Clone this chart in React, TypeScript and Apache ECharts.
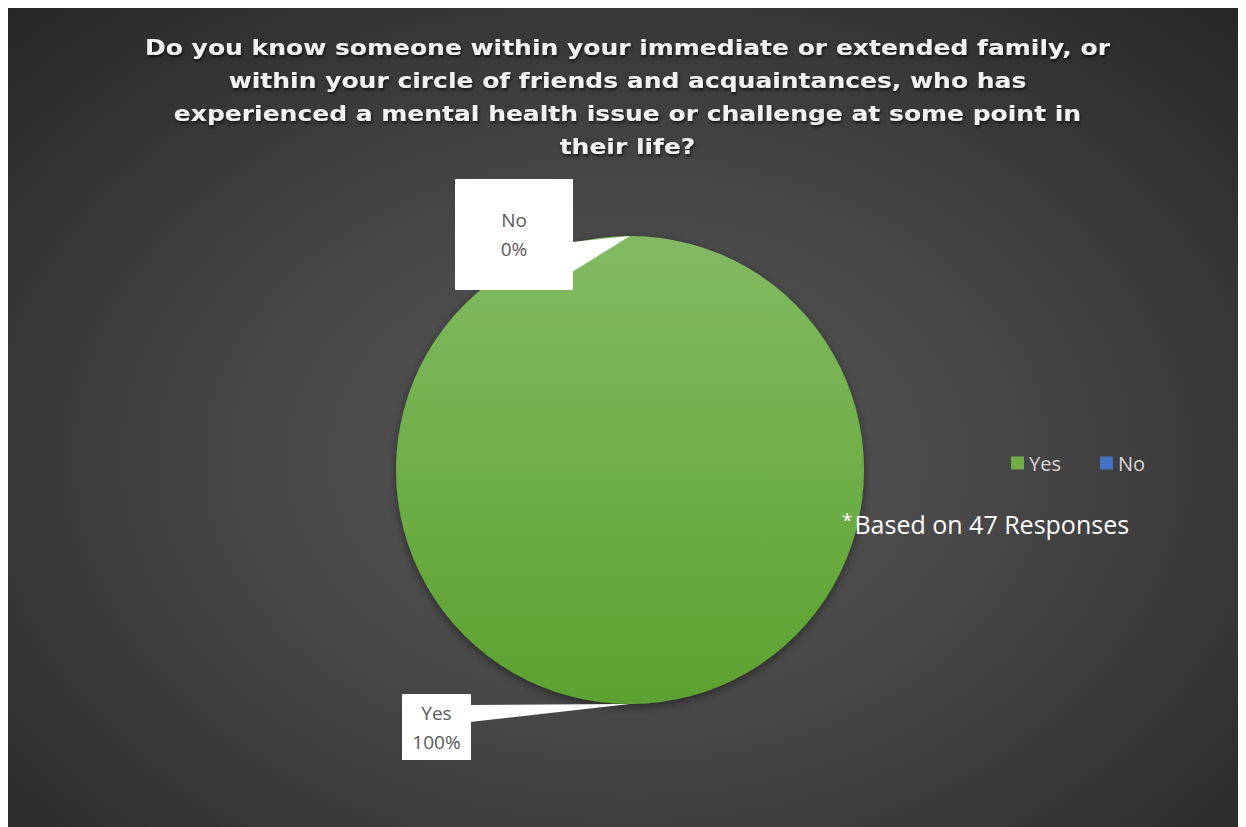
import React, { useEffect, useRef } from "react";
import * as echarts from "echarts";

const titleLines = [
  "Do you know someone within your immediate or extended family, or",
  "within your circle of friends and acquaintances, who has",
  "experienced a mental health issue or challenge at some point in",
  "their life?",
];
const categories = ["Yes", "No"];
const responses = [47, 0];
const noteText = "Based on 47 Responses";

const W = 1238;
const H = 820;
const CX = 622;
const CY = 462;
const R = 234;
const START = 90;

// label boxes (layout only)
const boxes = [
  { x: 394, y: 686, w: 69, h: 66, baseY0: 11, baseY1: 28 },
  { x: 447, y: 171, w: 118, h: 111, baseY0: 63, baseY1: 93 },
];

export default function App() {
  const ref = useRef<HTMLDivElement>(null);
  useEffect(() => {
    if (!ref.current) return;
    const chart = echarts.init(ref.current, undefined, { renderer: "svg" });
    const total = responses.reduce((a, b) => a + b, 0);
    let acc = 0;
    const mids: number[] = [];
    responses.forEach((v) => {
      const frac = v / total;
      mids.push(START - (acc + frac / 2) * 360);
      acc += frac;
    });
    const wedges = boxes.map((b, i) => {
      const a = (mids[i] * Math.PI) / 180;
      const tx = CX + R * Math.cos(a);
      const ty = CY - R * Math.sin(a);
      return {
        type: "polygon",
        z: 100,
        shape: {
          points: [
            [b.x + b.w - 1, b.y + b.baseY0],
            [tx, ty],
            [b.x + b.w - 1, b.y + b.baseY1],
          ],
        },
        style: { fill: "#ffffff" },
      };
    });
    chart.setOption({
      animation: false,
      legend: {
        left: 1003,
        top: 445,
        padding: 0,
        itemWidth: 13,
        itemHeight: 13,
        itemGap: 39,
        icon: "rect",
        textStyle: { color: "#d9d9d9", fontSize: 20, fontFamily: "Open Sans" },
        data: [
          { name: "Yes", itemStyle: { color: "#70ad47" } },
          { name: "No", itemStyle: { color: "#4472c4" } },
        ],
      },
      graphic: [
        ...wedges,
        {
          type: "text",
          x: 619.5,
          y: 23,
          scaleX: 1.19,
          z: 100,
          style: {
            text: titleLines.join("\n"),
            align: "center",
            verticalAlign: "top",
            fill: "#f2f2f2",
            fontFamily: "DejaVu Sans",
            fontWeight: "bold",
            fontSize: 21,
            lineHeight: 33,
            textShadowColor: "rgba(0,0,0,0.7)",
            textShadowBlur: 3,
            textShadowOffsetX: 1,
            textShadowOffsetY: 2,
          },
        },
        {
          type: "text",
          left: 834,
          top: 502,
          z: 100,
          style: {
            text: "{a|*}" + noteText,
            rich: {
              a: { fontSize: 19, fill: "#ffffff", fontFamily: "Open Sans", verticalAlign: "top", padding: [0, 2, 8, 0] },
            },
            fill: "#ffffff",
            fontSize: 25,
            fontFamily: "Open Sans",
          },
        },
      ],
      series: [
        {
          type: "pie",
          center: [CX, CY],
          radius: R,
          startAngle: START,
          clockwise: true,
          minAngle: 0,
          avoidLabelOverlap: false,
          labelLine: { show: false },
          itemStyle: {
            shadowBlur: 10,
            shadowColor: "rgba(0,0,0,0.45)",
            shadowOffsetY: 3,
          },
          label: {
            show: true,
            formatter: (p: any) => `${p.name}\n${Math.round(p.percent)}%`,
            backgroundColor: "#ffffff",
            color: "#595959",
            fontSize: 19,
            lineHeight: 29,
            fontFamily: "Open Sans",
            align: "center",
            verticalAlign: "middle",
          },
          labelLayout: (params: any) => {
            const b = boxes[params.dataIndex];
            return {
              x: b.x + b.w / 2,
              y: b.y + b.h / 2,
              align: "center",
              verticalAlign: "middle",
            };
          },
          data: categories.map((c, i) => ({
            name: c,
            value: responses[i],
            itemStyle:
              i === 0
                ? {
                    color: new echarts.graphic.LinearGradient(0, 0, 0, 1, [
                      { offset: 0, color: "#82ba62" },
                      { offset: 1, color: "#5ca230" },
                    ]),
                  }
                : { color: "#4472c4" },
            label: {
              width: boxes[i].w,
              height: boxes[i].h,
              padding: 0,
            },
          })),
        },
      ],
    });
    return () => chart.dispose();
  }, []);
  return (
    <div
      ref={ref}
      style={{
        width: W,
        height: H,
        background:
          "radial-gradient(ellipse 72% 78% at 50% 55%, #5a5a5a 0%, #454545 45%, #262626 100%)",
      }}
    />
  );
}
